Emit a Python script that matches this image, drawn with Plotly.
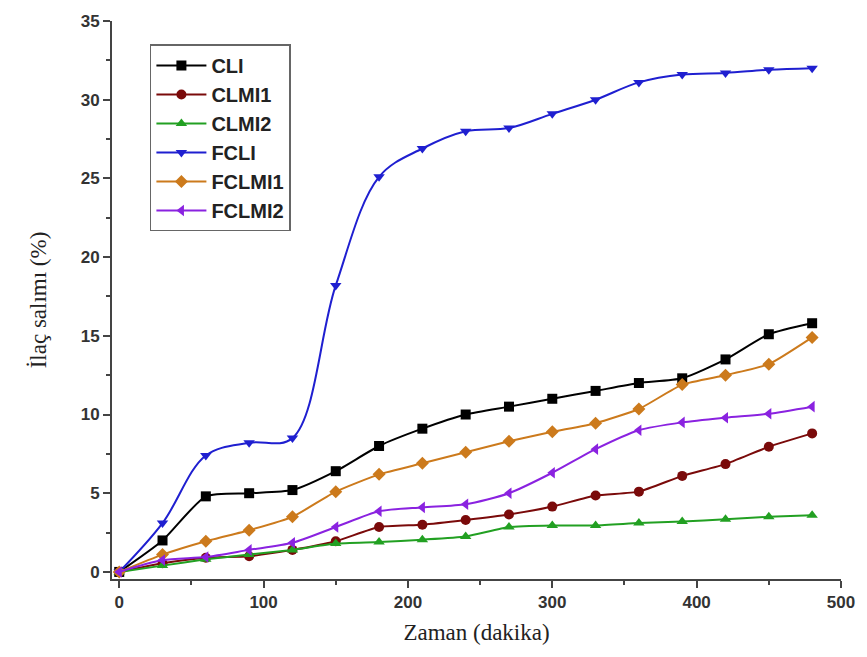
import plotly.graph_objects as go

time_min = [0, 30, 60, 90, 120, 150, 180, 210, 240, 270, 300, 330, 360, 390, 420, 450, 480]

series_names = ["CLI", "CLMI1", "CLMI2", "FCLI", "FCLMI1", "FCLMI2"]
cli = [0, 2.0, 4.8, 5.0, 5.2, 6.4, 8.0, 9.1, 10.0, 10.5, 11.0, 11.5, 12.0, 12.3, 13.5, 15.1, 15.8]
clmi1 = [0, 0.55, 0.9, 1.0, 1.4, 1.95, 2.85, 3.0, 3.3, 3.65, 4.15, 4.85, 5.1, 6.1, 6.85, 7.95, 8.8]
clmi2 = [0, 0.4, 0.8, 1.1, 1.4, 1.8, 1.9, 2.05, 2.25, 2.85, 2.95, 2.95, 3.1, 3.2, 3.35, 3.5, 3.6]
fcli = [0, 3.1, 7.4, 8.2, 8.5, 18.2, 25.1, 26.9, 28.0, 28.2, 29.1, 30.0, 31.1, 31.6, 31.7, 31.9, 32.0]
fclmi1 = [0, 1.1, 1.95, 2.65, 3.5, 5.1, 6.2, 6.9, 7.6, 8.3, 8.9, 9.45, 10.35, 11.9, 12.5, 13.2, 14.9]
fclmi2 = [0, 0.75, 0.95, 1.4, 1.85, 2.85, 3.85, 4.1, 4.3, 5.0, 6.3, 7.8, 9.0, 9.5, 9.8, 10.05, 10.5]

values = [cli, clmi1, clmi2, fcli, fclmi1, fclmi2]
colors = ["#000000", "#7a0a0a", "#22a022", "#1f1fd0", "#cc7a1c", "#8a22e0"]
symbols = ["square", "circle", "triangle-up", "triangle-down", "diamond", "triangle-left"]
smooth = [0.6, 0.5, 0.5, 1.0, 0.5, 0.7]

fig = go.Figure()
for name, ys, c, s, sm in zip(series_names, values, colors, symbols, smooth):
    fig.add_trace(go.Scatter(
        x=time_min, y=ys, name=name, mode="lines+markers",
        line=dict(color=c, width=2, shape="spline", smoothing=sm),
        marker=dict(symbol=s, size=10, color=c),
        legendgroup=name,
    ))

axis_font = dict(family="Liberation Sans, Arial", size=17, color="#333333", weight="bold")
fig.update_layout(
    width=867, height=657,
    margin=dict(l=112, r=22, t=17, b=78),
    paper_bgcolor="white", plot_bgcolor="white",
    showlegend=True,
    legend=dict(
        x=0.052, y=0.958, xanchor="left", yanchor="top",
        bgcolor="white", bordercolor="#666666", borderwidth=1.5,
        font=dict(family="Liberation Sans, Arial", size=20, color="#222222", weight="bold"),
        tracegroupgap=0, itemwidth=50,
    ),
    xaxis=dict(
        range=[-5, 500], tickmode="array", tickvals=[0, 100, 200, 300, 400, 500],
        ticks="outside", ticklen=7, tickwidth=1.5, tickcolor="#444444",
        minor=dict(tickvals=[50, 150, 250, 350, 450], ticks="outside", ticklen=4, tickwidth=1.5, tickcolor="#444444"),
        showline=True, linecolor="#444444", linewidth=2, showgrid=False, zeroline=False,
        tickfont=axis_font,
        title=dict(text="Zaman (dakika)", font=dict(family="Liberation Serif, Times New Roman", size=23, color="#222222"), standoff=12),
    ),
    yaxis=dict(
        range=[-0.45, 35], tickmode="array", tickvals=[0, 5, 10, 15, 20, 25, 30, 35],
        ticks="outside", ticklen=7, tickwidth=1.5, tickcolor="#444444",
        minor=dict(tickvals=[2.5, 7.5, 12.5, 17.5, 22.5, 27.5, 32.5], ticks="outside", ticklen=4, tickwidth=1.5, tickcolor="#444444"),
        showline=True, linecolor="#444444", linewidth=2, showgrid=False, zeroline=False,
        tickfont=axis_font,
        title=dict(text="İlaç salımı (%)", font=dict(family="Liberation Serif, Times New Roman", size=23, color="#222222"), standoff=28),
    ),
)

fig.write_html("out.html")
